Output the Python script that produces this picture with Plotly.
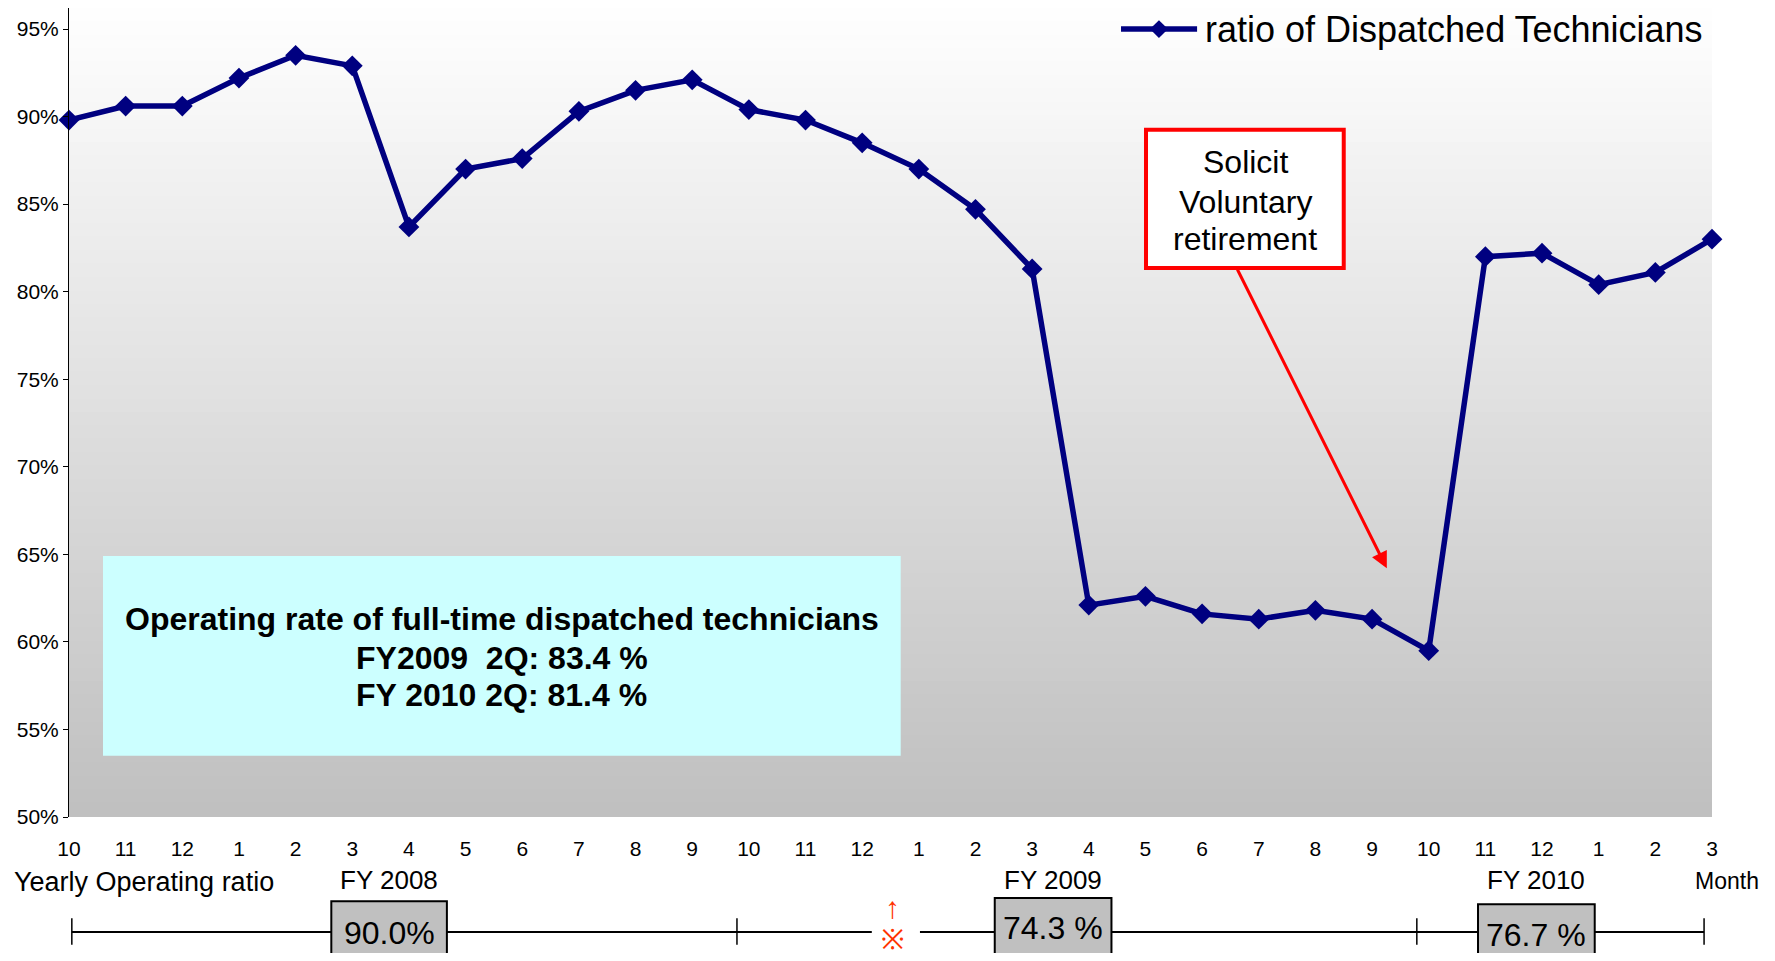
import plotly.graph_objects as go

months = ["10", "11", "12", "1", "2", "3", "4", "5", "6", "7", "8", "9",
          "10", "11", "12", "1", "2", "3", "4", "5", "6", "7", "8", "9",
          "10", "11", "12", "1", "2", "3"]
ratio = [89.8, 90.6, 90.6, 92.2, 93.5, 92.9, 83.7, 87.0, 87.6, 90.3, 91.5, 92.1,
         90.4, 89.8, 88.5, 87.0, 84.7, 81.3, 62.1, 62.6, 61.6, 61.3, 61.8, 61.3,
         59.5, 82.0, 82.2, 80.4, 81.1, 83.0]
y_ticks = [50, 55, 60, 65, 70, 75, 80, 85, 90, 95]
fy_labels = ["FY 2008", "FY 2009", "FY 2010"]
fy_ratio = ["90.0%", "74.3 %", "76.7 %"]
info_lines = ["Operating rate of full-time dispatched technicians",
              "FY2009  2Q: 83.4 %", "FY 2010 2Q: 81.4 %"]
series_name = "ratio of Dispatched Technicians"

FONT = "Arial, Liberation Sans, sans-serif"
NAVY = "#000080"
x = list(range(len(months)))

fig = go.Figure()
fig.add_trace(go.Scatter(
    x=x, y=ratio, mode="lines+markers", name=series_name, showlegend=False,
    line=dict(color=NAVY, width=5.5), marker=dict(symbol="diamond", size=16, color=NAVY),
    cliponaxis=False,
))

# gradient plot background (white -> grey)
n = 60
for i in range(n):
    c = int(255 - (255 - 192) * (i + 0.5) / n)
    fig.add_shape(type="rect", xref="paper", yref="paper", x0=0, x1=1,
                  y0=1 - (i + 1) / n, y1=1 - i / n + 0.001, layer="below",
                  line=dict(width=0), fillcolor=f"rgb({c},{c},{c})")


def label(text, x, y, size, xref="x", yref="y", color="black", **kw):
    fig.add_annotation(x=x, y=y, xref=xref, yref=yref, text=text, showarrow=False,
                       xanchor=kw.pop("xanchor", "center"), yanchor="middle",
                       font=dict(size=size, color=color, family=FONT), **kw)


# legend drawn by hand (line + diamond + text) so it sits at the very top
ly = 0.974
fig.add_shape(type="line", xref="paper", yref="paper", x0=0.6403, x1=0.6866, y0=ly, y1=ly,
              line=dict(color=NAVY, width=5.5))
cx, dx, dy = 0.6634, 0.0055, 0.011
fig.add_shape(type="path", xref="paper", yref="paper", line=dict(width=0), fillcolor=NAVY,
              path=f"M {cx - dx} {ly} L {cx} {ly + dy} L {cx + dx} {ly} L {cx} {ly - dy} Z")
label(series_name, 0.6902, ly, 36, xref="paper", yref="paper", xanchor="left")

# cyan info box
fig.add_shape(type="rect", x0=0.6, x1=14.68, y0=53.5, y1=64.9, line=dict(width=0),
              fillcolor="#ccffff")
for txt, yy in zip(info_lines, [61.33, 59.1, 56.98]):
    label(f"<b>{txt}</b>", 7.64, yy, 32)

# solicit box + arrow
fig.add_shape(type="rect", x0=19.01, x1=22.5, y0=81.35, y1=89.25,
              line=dict(color="#ff0000", width=4), fillcolor="white")
for txt, yy in zip(["Solicit", "Voluntary", "retirement"], [87.41, 85.13, 83.0]):
    label(txt, 20.76, yy, 32)
fig.add_annotation(x=23.26, y=64.2, ax=20.61, ay=81.35, axref="x", ayref="y",
                   text="", showarrow=True, arrowhead=2, arrowsize=1.1,
                   arrowwidth=3, arrowcolor="#ff0000")

# yearly operating ratio timeline
label("Yearly Operating ratio", 0, -0.08, 27, xref="paper", yref="paper",
      xanchor="left", xshift=-57)
label("Month", 1, -0.079, 23, xref="paper", yref="paper", xshift=15)
ty = -0.142
for x0, x1 in [(0.05, 14.17), (15.02, 28.86)]:
    fig.add_shape(type="line", xref="x", yref="paper", x0=x0, x1=x1, y0=ty, y1=ty,
                  line=dict(color="black", width=2))
for tx in [0.05, 11.79, 23.79, 28.86]:
    fig.add_shape(type="line", xref="x", yref="paper", x0=tx, x1=tx, y0=-0.125, y1=-0.158,
                  line=dict(color="black", width=1.5))

box_x = [(4.63, 6.67), (16.34, 18.4), (24.87, 26.93)]
box_y = [(-0.104, -0.2), (-0.1, -0.172), (-0.108, -0.2)]
txt_y = [-0.143, -0.137, -0.146]
for (bx0, bx1), (by0, by1), lab, val, tyy in zip(box_x, box_y, fy_labels, fy_ratio, txt_y):
    fig.add_shape(type="rect", xref="x", yref="paper", x0=bx0, x1=bx1, y0=by0, y1=by1,
                  line=dict(color="black", width=2), fillcolor="#c0c0c0")
    label(val, (bx0 + bx1) / 2, tyy, 32, yref="paper")
    label(lab, (bx0 + bx1) / 2, -0.078, 26, yref="paper")

label("↑", 14.54, -0.112, 30, yref="paper", color="#ff3300")
label("※", 14.54, -0.152, 28, yref="paper", color="#ff3300")

# page body has an 8px margin: shrink the figure so it lines up with the 1775x961 frame
fig.update_layout(
    width=1759, height=945,
    margin=dict(l=61, r=55, t=0, b=136),
    paper_bgcolor="white", plot_bgcolor="white",
    font=dict(family=FONT, color="black"),
    showlegend=False,
    xaxis=dict(range=[0, 29], tickvals=x, ticktext=months, showgrid=False, zeroline=False,
               showline=False, ticks="outside", ticklen=13, tickcolor="rgba(0,0,0,0)",
               tickfont=dict(size=21, color="black")),
    yaxis=dict(range=[50, 96.2], tickvals=y_ticks, ticktext=[f"{v}%" for v in y_ticks],
               showgrid=False, zeroline=False, showline=True, linecolor="black",
               linewidth=1, ticks="outside", ticklen=5, tickcolor="black",
               tickfont=dict(size=21, color="black")),
)

fig.write_html("out.html")
